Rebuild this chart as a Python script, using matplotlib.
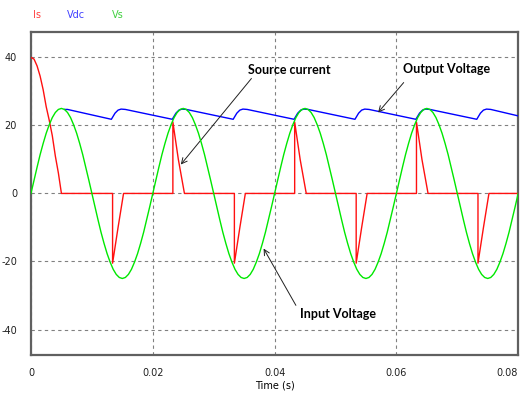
import numpy as np
import matplotlib.pyplot as plt

plt.rcParams['axes.unicode_minus'] = False

vs_cycle = [0, 3.9, 7.7, 11.4, 14.7, 17.7, 20.2, 22.3, 23.8, 24.7,
            25.0, 24.7, 23.8, 22.3, 20.2, 17.7, 14.7, 11.4, 7.7, 3.9,
            0, -3.9, -7.7, -11.4, -14.7, -17.7, -20.2, -22.3, -23.8, -24.7,
            -25.0, -24.7, -23.8, -22.3, -20.2, -17.7, -14.7, -11.4, -7.7, -3.9]
vs = vs_cycle * 4 + [0]
vs_t = [i * 0.0005 for i in range(len(vs))]

# source current breakpoints
is_t = [0, 0.0005, 0.001, 0.0015, 0.002, 0.0025, 0.003, 0.0035, 0.004, 0.0045, 0.005,
        0.0134, 0.0134, 0.0143, 0.0152,
        0.0233, 0.0233, 0.0242, 0.0252,
        0.0334, 0.0334, 0.0343, 0.0352,
        0.0433, 0.0433, 0.0442, 0.0452,
        0.0534, 0.0534, 0.0543, 0.0552,
        0.0633, 0.0633, 0.0642, 0.0652,
        0.0734, 0.0734, 0.0743, 0.0752,
        0.08]
is_v = [40, 39.5, 37.5, 34.5, 30.5, 25.5, 21.5, 17, 11, 6, 0,
        0, -20.5, -10, 0,
        0, 21, 10, 0,
        0, -20.5, -10, 0,
        0, 21, 10, 0,
        0, -20.5, -10, 0,
        0, 21, 10, 0,
        0, -20.5, -10, 0,
        0]

# output (dc) voltage breakpoints
vdc_t = [0.0055, 0.006, 0.0132, 0.0138, 0.0143, 0.0148, 0.0155,
         0.0232, 0.0238, 0.0243, 0.0248, 0.0255,
         0.0332, 0.0338, 0.0343, 0.0348, 0.0355,
         0.0432, 0.0438, 0.0443, 0.0448, 0.0455,
         0.0532, 0.0538, 0.0543, 0.0548, 0.0555,
         0.0632, 0.0638, 0.0643, 0.0648, 0.0655,
         0.0732, 0.0738, 0.0743, 0.0748, 0.0755, 0.08]
vdc_v = [24.7, 24.7, 21.8, 23.6, 24.5, 24.8, 24.7,
         21.8, 23.6, 24.5, 24.8, 24.7,
         21.8, 23.6, 24.5, 24.8, 24.7,
         21.8, 23.6, 24.5, 24.8, 24.7,
         21.8, 23.6, 24.5, 24.8, 24.7,
         21.8, 23.6, 24.5, 24.8, 24.7,
         21.8, 23.6, 24.5, 24.8, 24.7, 22.8]

xticks = [0, 0.02, 0.04, 0.06, 0.08]
xtick_labels = ['0', '0.02', '0.04', '0.06', '0.08']
yticks = [40, 20, 0, -20, -40]

fig = plt.figure(figsize=(5.25, 3.96), dpi=100)
ax = fig.add_axes([0.059, 0.1035, 0.928, 0.816])

ax.plot(vdc_t, vdc_v, c='#0000ff', lw=1.0, zorder=3)
ax.plot(is_t, is_v, c='#ff1010', lw=1.0, zorder=4)
ax.plot(vs_t, vs, c='#00e800', lw=1.0, zorder=5)

ax.set_xlim(0, 0.08)
ax.set_ylim(-47.5, 47.5)
ax.set_xticks(xticks)
ax.set_xticklabels(xtick_labels)
ax.set_yticks(yticks)
ax.tick_params(length=0, labelsize=7, pad=9, colors='#202020')
ax.tick_params(axis='y', pad=10)
ax.grid(True, ls=(0, (3, 3)), c='#808080', lw=0.8)
for s in ax.spines.values():
    s.set_color('#606060')
    s.set_linewidth(1.6)
ax.set_xlabel('Time (s)', fontsize=7, labelpad=2)
xl = ax.get_xticklabels()
xl[-1].set_ha('right')

# legend-like labels on top
fig.text(0.063, 0.962, 'Is', color='#ff4040', fontsize=7, va='center')
fig.text(0.127, 0.962, 'Vdc', color='#4040ff', fontsize=7, va='center')
fig.text(0.213, 0.962, 'Vs', color='#40d040', fontsize=7, va='center')

fnt = dict(family=['Lato', 'DejaVu Sans'], fontsize=9, fontweight='bold', ha='center', va='center')
arr = dict(arrowstyle='->', color='#202020', lw=0.7, shrinkA=0, shrinkB=0)

ax.text(0.0425, 36.2, 'Source current', **fnt)
ax.annotate('', xy=(0.0246, 8.5), xytext=(0.0362, 33.8), arrowprops=arr)
ax.text(0.0683, 36.5, 'Output Voltage', **fnt)
ax.annotate('', xy=(0.0570, 23.8), xytext=(0.0612, 32.6), arrowprops=arr)
ax.text(0.0504, -35.3, 'Input Voltage', **fnt)
ax.annotate('', xy=(0.0382, -16.2), xytext=(0.0435, -32.9), arrowprops=arr)

plt.savefig('out.png', dpi=100)
